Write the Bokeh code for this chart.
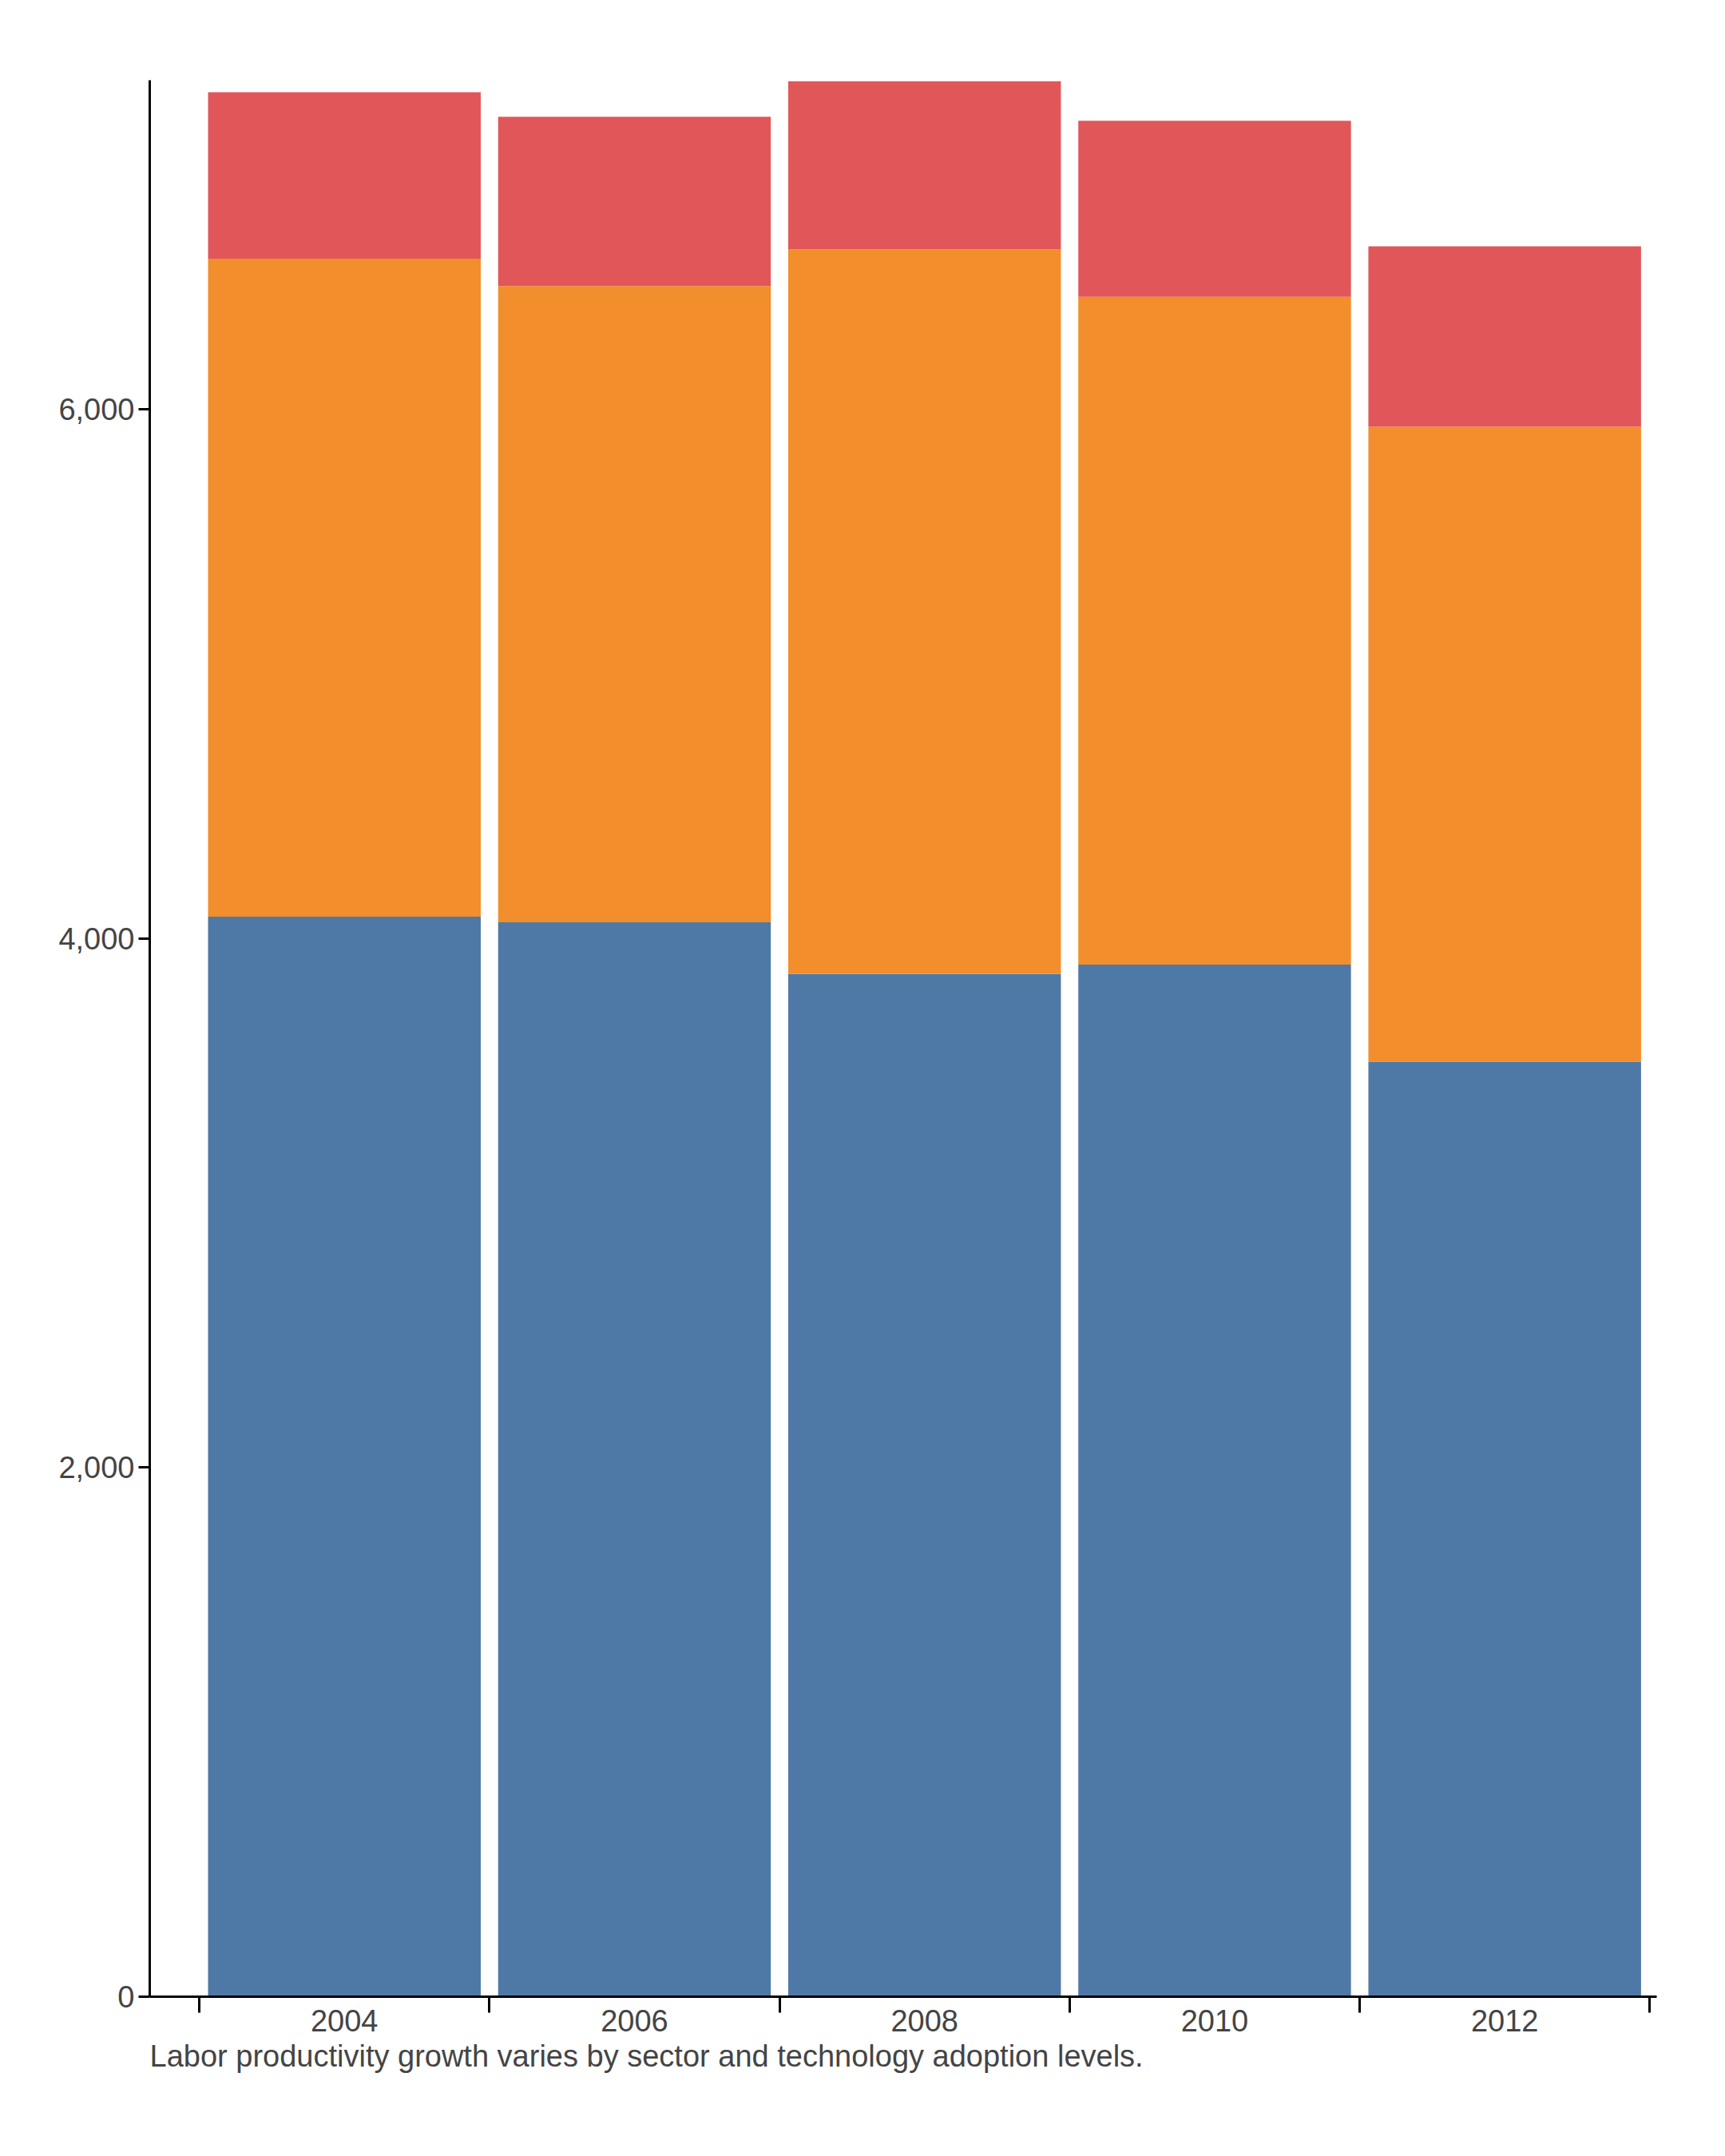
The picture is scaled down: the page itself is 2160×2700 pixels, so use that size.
from bokeh.plotting import figure
from bokeh.models import ColumnDataSource, Legend, LinearAxis, FixedTicker, Range1d, NumeralTickFormatter, Title
from bokeh.embed import file_html
from bokeh.resources import INLINE

years = ["2004", "2006", "2008", "2010", "2012"]
jpn = [4083, 4062, 3866, 3902, 3535]
zaf = [2487, 2405, 2740, 2524, 2400]
idn = [630, 640, 635, 666, 682]
series = ["JPN", "ZAF", "IDN"]
colors = ["#4e79a7", "#f28e2b", "#e15759"]

xs = list(range(len(years)))
src = ColumnDataSource(dict(x=xs, JPN=jpn, ZAF=zaf, IDN=idn))
FONT = "Liberation Sans"
FH = 2400

p = figure(frame_width=1887, frame_height=FH, output_backend="svg", toolbar_location=None,
           x_range=Range1d(-0.671, 4.524), y_range=Range1d(0, 7245),
           min_border_left=187, min_border_top=100, min_border_right=60, min_border_bottom=10)
p.xaxis.visible = False
p.grid.visible = False
p.outline_line_color = None

rs = p.vbar_stack(series, x="x", width=0.94, color=colors, source=src, line_color=None)

p.yaxis.ticker = FixedTicker(ticks=[0, 2000, 4000, 6000])
p.yaxis.formatter = NumeralTickFormatter(format="0,0")
p.yaxis.major_label_text_font = FONT
p.yaxis.major_label_text_font_size = "38px"
p.yaxis.major_label_text_color = "#444444"
p.yaxis.axis_line_width = 3
p.yaxis.major_tick_line_width = 3
p.yaxis.major_tick_out = 14
p.yaxis.major_tick_in = 0
p.yaxis.minor_tick_line_color = None

bticks = [i - 0.5 for i in range(len(years) + 1)]
ax1 = LinearAxis(ticker=FixedTicker(ticks=bticks), major_label_overrides={t: "" for t in bticks})
ax1.axis_line_width = 3
ax1.major_tick_line_width = 3
ax1.major_tick_out = 20
ax1.major_tick_in = 0
ax1.minor_tick_line_color = None
ax1.major_label_standoff = 0
p.add_layout(ax1, "below")

ax2 = LinearAxis(ticker=FixedTicker(ticks=xs), major_label_overrides={i: y for i, y in enumerate(years)})
ax2.axis_line_color = None
ax2.major_tick_line_color = None
ax2.minor_tick_line_color = None
ax2.major_label_text_font = FONT
ax2.major_label_text_font_size = "38px"
ax2.major_label_text_color = "#444444"
ax2.major_label_standoff = -10
p.add_layout(ax2, "below")

legend = Legend(items=[(s, [r]) for s, r in zip(series, rs)], orientation="horizontal",
                location=(560, FH + 20), label_text_font=FONT, label_text_font_size="38px",
                label_text_color="#222222", glyph_width=34, glyph_height=34, spacing=50,
                border_line_color=None, background_fill_alpha=0, label_standoff=40, margin=0, padding=10)
p.add_layout(legend)

cap = Title(text="Labor productivity growth varies by sector and technology adoption levels.",
            text_font=FONT, text_font_size="38px", text_font_style="normal",
            text_color="#444444", align="left", offset=0)
p.add_layout(cap, "below")

open("out.html", "w").write(file_html(p, INLINE))
